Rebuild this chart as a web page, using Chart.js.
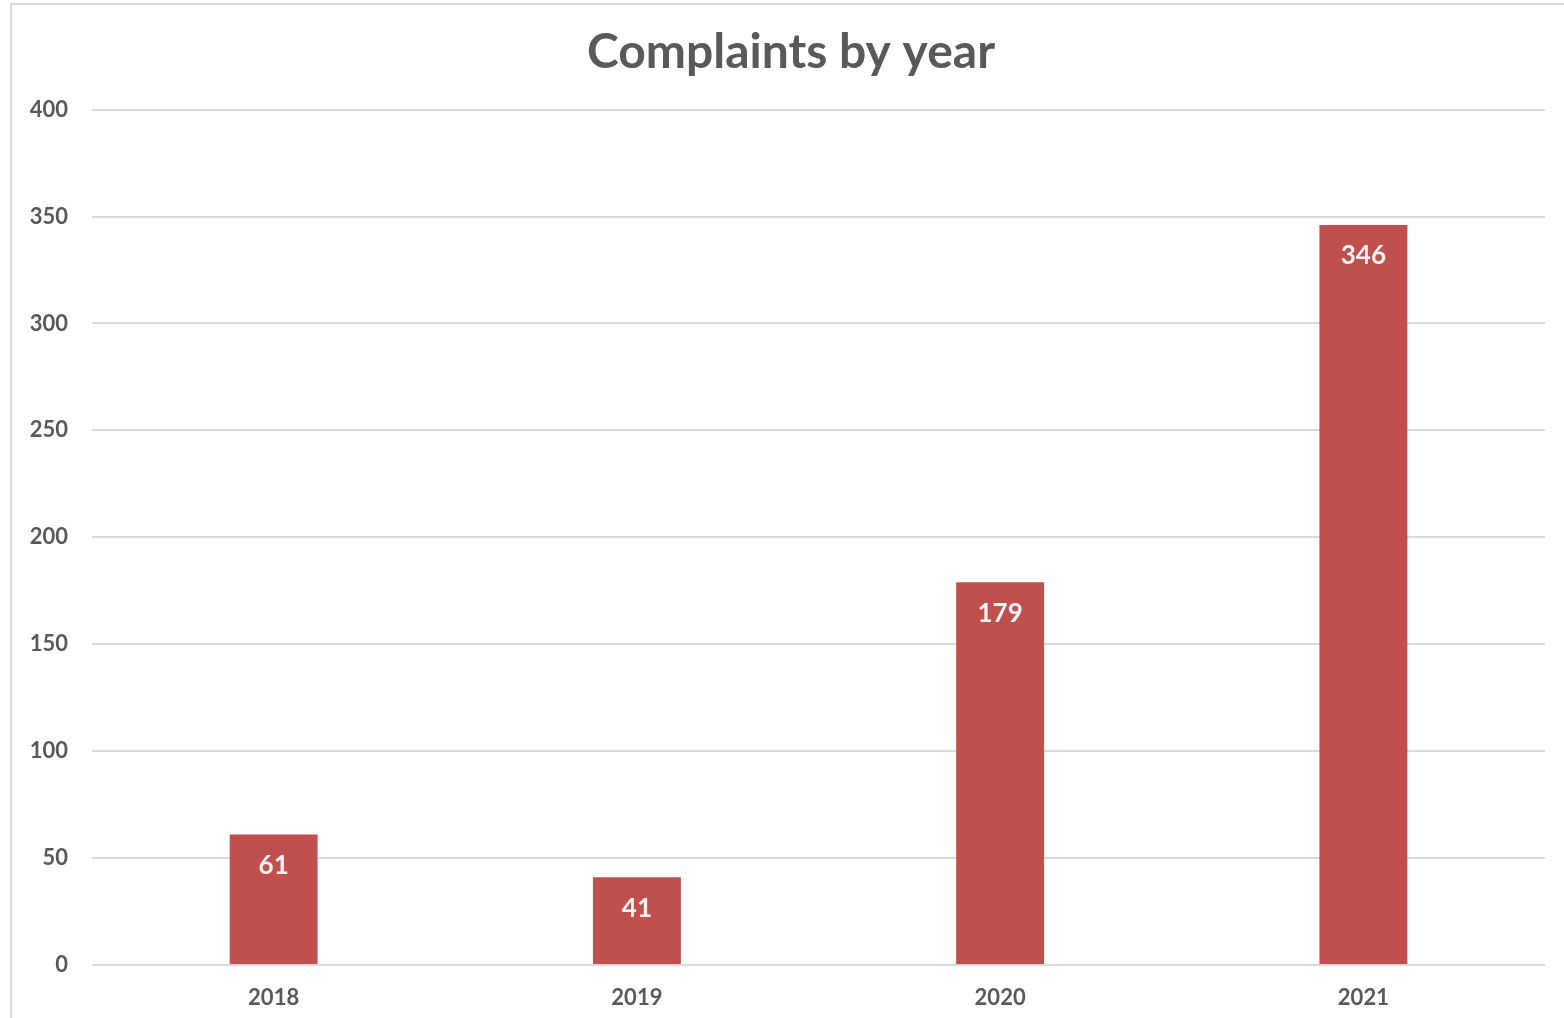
<!DOCTYPE html>
<html>
<head>
<meta charset="utf-8">
<script src="https://cdn.jsdelivr.net/npm/chart.js@4"></script>
<style>
  html, body { margin: 0; padding: 0; background: #fff; overflow: hidden; }
  #frame {
    position: absolute; left: 10px; top: 3px;
    width: 1600px; height: 1100px;
    border: 2px solid #d9d9d9; box-sizing: border-box;
  }
  #wrap { position: absolute; left: 0; top: 0; width: 1564px; height: 1018px; }
</style>
</head>
<body>
<div id="frame"></div>
<div id="wrap"><canvas id="chart"></canvas></div>
<script>
const years = ["2018", "2019", "2020", "2021"];
const complaints = [61, 41, 179, 346];
const yTicks = [0, 50, 100, 150, 200, 250, 300, 350, 400];

const FONT = "Lato, 'Open Sans', sans-serif";

// draw value labels inside the top of each bar
const valueLabels = {
  id: "valueLabels",
  afterDatasetsDraw(chart) {
    const ctx = chart.ctx;
    const meta = chart.getDatasetMeta(0);
    ctx.save();
    ctx.fillStyle = "#f2f2f2";
    ctx.font = "bold 26px " + FONT;
    ctx.textAlign = "center";
    ctx.textBaseline = "middle";
    meta.data.forEach((bar, i) => {
      ctx.fillText(String(complaints[i]), bar.x, bar.y + 31);
    });
    ctx.restore();
  }
};

new Chart(document.getElementById("chart").getContext("2d"), {
  type: "bar",
  data: {
    labels: years,
    datasets: [{
      data: complaints,
      backgroundColor: "#c0504d",
      barPercentage: 0.242,
      categoryPercentage: 1
    }]
  },
  options: {
    responsive: true,
    maintainAspectRatio: false,
    animation: false,
    // left padding offsets the title so it sits centred on the framed box
    layout: { padding: { top: 0, right: 0, bottom: 0, left: 18 } },
    plugins: {
      legend: { display: false },
      tooltip: { enabled: false },
      title: {
        display: true,
        text: "Complaints by year",
        color: "#595959",
        font: { family: FONT, size: 48, weight: "bold" },
        padding: { top: 24, bottom: 28 }
      }
    },
    scales: {
      x: {
        afterFit(axis) { axis.height = 53; },
        grid: { display: false, drawTicks: false },
        border: { display: false },
        ticks: {
          color: "#595959",
          font: { family: FONT, size: 22, weight: "bold" },
          padding: 20
        }
      },
      y: {
        min: 0,
        max: 400,
        afterBuildTicks(axis) {
          axis.ticks = yTicks.map(v => ({ value: v }));
        },
        afterFit(axis) { axis.width = 74; },
        grid: { color: "#d9d9d9", lineWidth: 2, drawTicks: false },
        border: { display: false },
        ticks: {
          color: "#595959",
          font: { family: FONT, size: 22, weight: "bold" },
          padding: 24
        }
      },
      // empty right-hand spacer so the plot stops short of the edge
      yRight: {
        position: "right",
        min: 0,
        max: 400,
        afterFit(axis) { axis.width = 19; },
        grid: { display: false, drawTicks: false },
        border: { display: false },
        ticks: { display: false }
      }
    }
  },
  plugins: [valueLabels]
});
</script>
</body>
</html>
